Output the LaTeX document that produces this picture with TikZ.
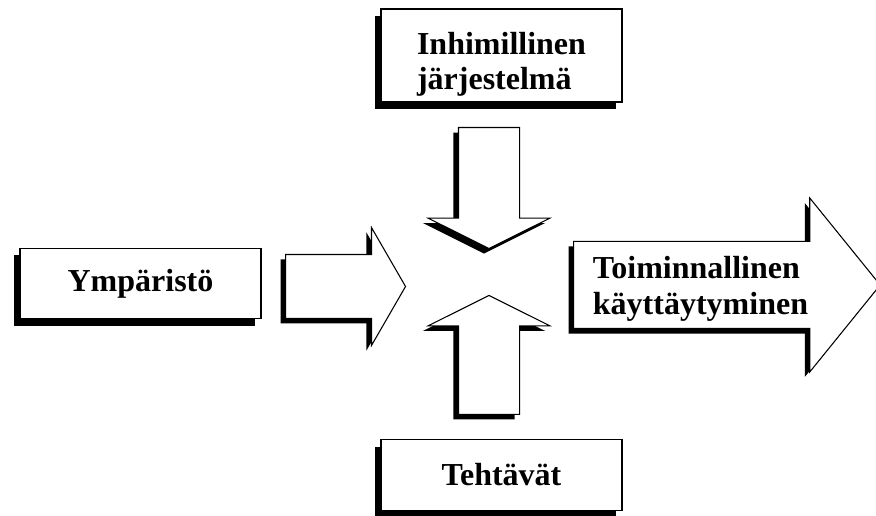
\documentclass[tikz,border=0pt]{standalone}
\usepackage{fontspec}
\setmainfont{Liberation Serif}
\usetikzlibrary{shapes.arrows, shadows}

\tikzset{
  box/.style={shape=rectangle, draw=black, fill=white, line width=0.8pt,
    minimum width=180.75pt, align=left,
    font=\bfseries\fontsize{24}{26}\selectfont,
    drop shadow={shadow xshift=-4.5pt, shadow yshift=-5.5pt, opacity=1, fill=black}},
  blockarrow/.style={shape=single arrow, draw=black, fill=white, line width=0.8pt,
    single arrow head indent=0pt, inner xsep=0pt, anchor=tail,
    drop shadow={shadow xshift=-3.75pt, shadow yshift=-3.75pt, opacity=1, fill=black}}
}

\begin{document}
\begin{tikzpicture}[x=0.75pt, y=-0.75pt]
\useasboundingbox (0,0) rectangle (876,516);

% boxes
\node[box, minimum height=69.75pt] (human) at (501.5,55.5)
  {\rule{0pt}{30pt}Inhimillinen\\järjestelmä};
\node[box, minimum height=53pt] (env) at (140.5,283.5) {Ympäristö};
\node[box, minimum height=53pt] (tasks) at (501.5,475) {Tehtävät};

% block arrows
\node[blockarrow, minimum height=90pt, inner ysep=23.6pt,
  minimum width=87.75pt, single arrow head extend=20.25pt,
  single arrow tip angle=120] (envarrow) at (285,286.5) {};
\node[blockarrow, minimum height=90.75pt, inner ysep=22.5pt,
  minimum width=90.75pt, single arrow head extend=22.9pt,
  single arrow tip angle=127, rotate=-90] (downarrow) at (489,127) {};
\node[blockarrow, minimum height=89.25pt, inner ysep=22.5pt,
  minimum width=90.75pt, single arrow head extend=22.9pt,
  single arrow tip angle=127, rotate=90] (uparrow) at (489,415) {};
\node[blockarrow, minimum height=230pt, inner ysep=32.25pt,
  minimum width=129.75pt, single arrow head extend=32.6pt,
  single arrow tip angle=102] (outarrow) at (573,285) {};
\node[align=left, font=\bfseries\fontsize{24}{27}\selectfont] (behaviour) at (700.5,289)
  {Toiminnallinen\\käyttäytyminen};
\end{tikzpicture}
\end{document}
